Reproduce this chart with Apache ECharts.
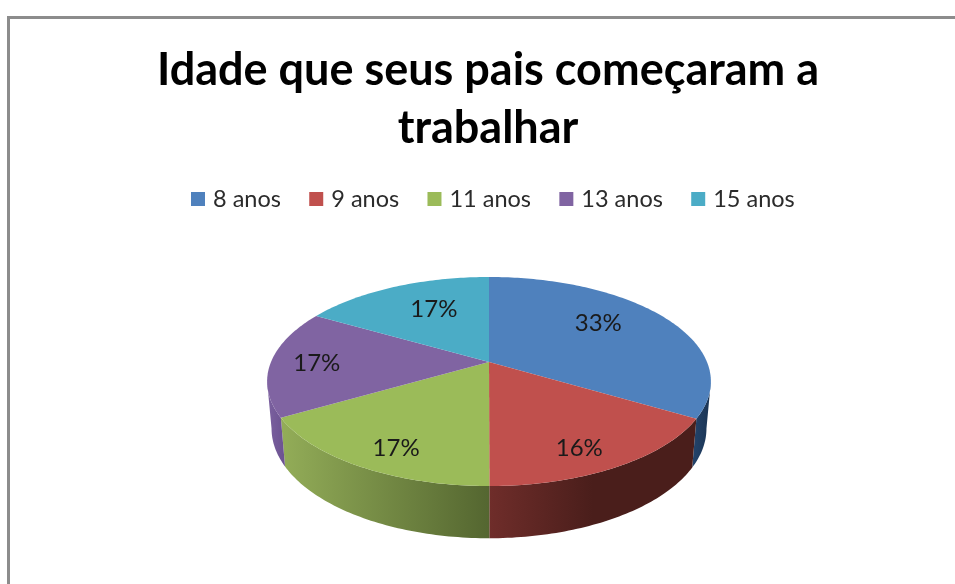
<!DOCTYPE html>
<html>
<head>
<meta charset="utf-8">
<style>
  html, body { margin: 0; padding: 0; background: #fff; }
  #chart { width: 955px; height: 584px; }
</style>
<script src="https://cdn.jsdelivr.net/npm/echarts@6/dist/echarts.min.js"></script>
</head>
<body>
<div id="chart"></div>
<script>
const titleText = 'Idade que seus pais começaram a\ntrabalhar';
const categories = ['8 anos', '9 anos', '11 anos', '13 anos', '15 anos'];
const values = [33.49, 16.49, 16.67, 16.67, 16.68];
const percentLabels = ['33%', '16%', '17%', '17%', '17%'];

const topColors = ['#4f81bd', '#c0504d', '#9bbb59', '#8064a2', '#4bacc6'];
// rim shading, left to right
const rimColors = [
  ['#24446c', '#1a3352'],
  ['#6f2d2a', '#4a1e1b'],
  ['#93ad58', '#546630'],
  ['#7c61a0', '#6b5290'],
  ['#4bacc6', '#4bacc6']
];
// where each label sits: share of the radius, then a nudge down
const labelPlace = [[0.61, -10], [0.735, 13], [0.75, 12], [0.79, 1], [0.55, -9]];

// pie tilt: a perspective view of a flat disc
const cx = 489, cy = 362, bx = 218, by = 100.9, persp = 0.1866;
// lower rim of the pie
const rimScaleX = 0.98, rimScaleY = 1.05, rimDrop = 46;
// the disc outline turns away from the viewer at these angles
const rimStart = 100.75, rimEnd = 259.25;

function project(deg, rho) {
  const a = deg * Math.PI / 180;
  const u = Math.sin(a) * rho, v = -Math.cos(a) * rho;
  const w = 1 - persp * v;
  return [bx * u / w, by * v / w];
}

function arcPoints(from, to, toLower) {
  const pts = [];
  const steps = Math.max(2, Math.ceil(Math.abs(to - from)));
  for (let i = 0; i <= steps; i++) {
    const p = project(from + (to - from) * i / steps, 1);
    pts.push(toLower
      ? [cx + p[0] * rimScaleX, cy + rimDrop + p[1] * rimScaleY]
      : [cx + p[0], cy + p[1]]);
  }
  return pts;
}

function renderSlice(params, api) {
  const i = params.seriesIndex;
  const total = values.reduce((s, v) => s + v, 0);
  const from = api.value(0) / total * 360;
  const to = from + api.value(1) / total * 360;
  const children = [];

  // only the front of the rim shows
  const rimFrom = Math.max(from, rimStart), rimTo = Math.min(to, rimEnd);
  if (rimTo > rimFrom) {
    const upper = arcPoints(rimFrom, rimTo, false);
    const lower = arcPoints(rimTo, rimFrom, true);
    children.push({
      type: 'polygon',
      shape: { points: upper.concat(lower) },
      style: {
        fill: new echarts.graphic.LinearGradient(0, 0, 1, 0, [
          { offset: 0, color: rimColors[i][0] },
          { offset: i === 1 ? 0.5 : 1, color: rimColors[i][1] }
        ])
      }
    });
  }

  children.push({
    type: 'polygon',
    shape: { points: [[cx, cy]].concat(arcPoints(from, to, false)) },
    style: { fill: topColors[i] }
  });

  const lp = project((from + to) / 2, labelPlace[i][0]);
  children.push({
    type: 'text',
    style: {
      text: percentLabels[i],
      x: cx + lp[0],
      y: cy + lp[1] + labelPlace[i][1],
      align: 'center',
      verticalAlign: 'middle',
      fill: '#1a1a1a',
      font: '24px Lato'
    }
  });
  return { type: 'group', children: children };
}

let running = 0;
const series = categories.map((name, i) => {
  const start = running;
  running += values[i];
  return {
    type: 'custom',
    name: name,
    coordinateSystem: 'none',
    renderItem: renderSlice,
    itemStyle: { color: topColors[i] },
    data: [[start, values[i]]],
    silent: true
  };
});

const myChart = echarts.init(document.getElementById('chart'));
myChart.setOption({
  animation: false,
  backgroundColor: '#fff',
  color: topColors,
  title: {
    text: titleText,
    left: 483,
    top: 36,
    textAlign: 'center',
    textStyle: {
      fontFamily: 'Lato',
      fontWeight: 'bold',
      fontSize: 45,
      lineHeight: 58,
      color: '#000'
    }
  },
  legend: {
    data: categories,
    left: 191,
    top: 187,
    padding: 0,
    icon: 'rect',
    itemWidth: 14,
    itemHeight: 14,
    itemGap: 28.3,
    selectedMode: false,
    textStyle: {
      fontFamily: 'Lato',
      fontSize: 23.5,
      color: '#2b2b2b',
      padding: [0, 0, 0, 3]
    }
  },
  graphic: [{
    type: 'polyline',
    silent: true,
    shape: { points: [[8.5, 584], [8.5, 17.5], [955, 17.5]] },
    style: { stroke: '#8c8c8c', lineWidth: 3, fill: 'none' }
  }],
  series: series
});
</script>
</body>
</html>
